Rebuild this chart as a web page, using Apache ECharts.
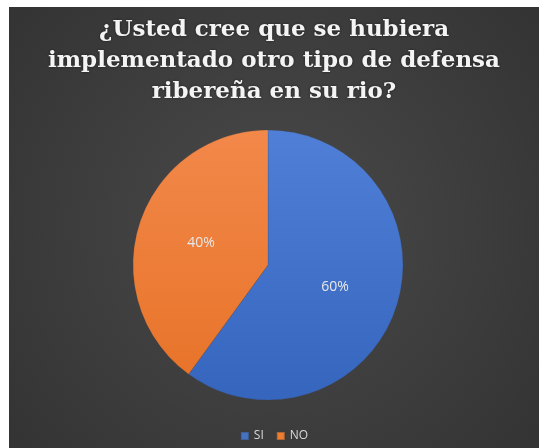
<!DOCTYPE html>
<html>
<head>
<meta charset="utf-8">
<script src="https://cdn.jsdelivr.net/npm/echarts@6/dist/echarts.min.js"></script>
<style>
  html, body { margin: 0; padding: 0; background: #ffffff; }
  #chart { position: absolute; left: 9px; top: 7px; width: 530px; height: 441px; }
</style>
</head>
<body>
<div id="chart"></div>
<script>
// Survey answers and their shares (percent)
const categories = ['SI', 'NO'];
const values = [60, 40];
const titleText = '¿Usted cree que se hubiera\nimplementado otro tipo de defensa\nribereña en su rio?';

const sliceColors = [
  new echarts.graphic.LinearGradient(0, 0, 0, 1, [
    { offset: 0, color: '#4f7fd6' },
    { offset: 1, color: '#3665be' }
  ]),
  new echarts.graphic.LinearGradient(0, 0, 0, 1, [
    { offset: 0, color: '#f2884a' },
    { offset: 1, color: '#e8742a' }
  ])
];
const legendColors = ['#4472c4', '#ed7d31'];

const chart = echarts.init(document.getElementById('chart'), null, { renderer: 'canvas' });

chart.setOption({
  backgroundColor: new echarts.graphic.RadialGradient(0.5, 0.5, 0.75, [
    { offset: 0, color: '#4a4a4a' },
    { offset: 1, color: '#343434' }
  ]),
  animation: false,
  title: {
    text: titleText,
    left: 'center',
    top: 3,
    textStyle: {
      fontFamily: '"DejaVu Serif", "Liberation Serif", serif',
      fontWeight: 'bold',
      fontSize: 23,
      lineHeight: 31,
      color: '#f4f4f4',
      textShadowColor: 'rgba(0,0,0,0.5)',
      textShadowBlur: 3
    }
  },
  legend: {
    bottom: 1,
    left: 'center',
    itemWidth: 8,
    itemHeight: 8,
    itemGap: 12,
    icon: 'rect',
    textStyle: {
      color: '#d9d9d9',
      fontSize: 12,
      fontFamily: '"Open Sans", "Liberation Sans", sans-serif'
    },
    data: categories.map((c, i) => ({ name: c, itemStyle: { color: legendColors[i] } }))
  },
  series: [{
    type: 'pie',
    center: [259, 258],
    radius: 135,
    startAngle: 90,
    clockwise: true,
    label: {
      show: true,
      position: 'inside',
      formatter: '{d}%',
      color: '#e8e8e8',
      fontSize: 14,
      fontFamily: '"Open Sans", "Liberation Sans", sans-serif'
    },
    labelLine: { show: false },
    itemStyle: { borderColor: 'rgba(60,60,60,0.35)', borderWidth: 0.5 },
    emphasis: { disabled: true },
    data: categories.map((c, i) => ({
      name: c,
      value: values[i],
      itemStyle: { color: sliceColors[i] }
    }))
  }]
});
</script>
</body>
</html>
